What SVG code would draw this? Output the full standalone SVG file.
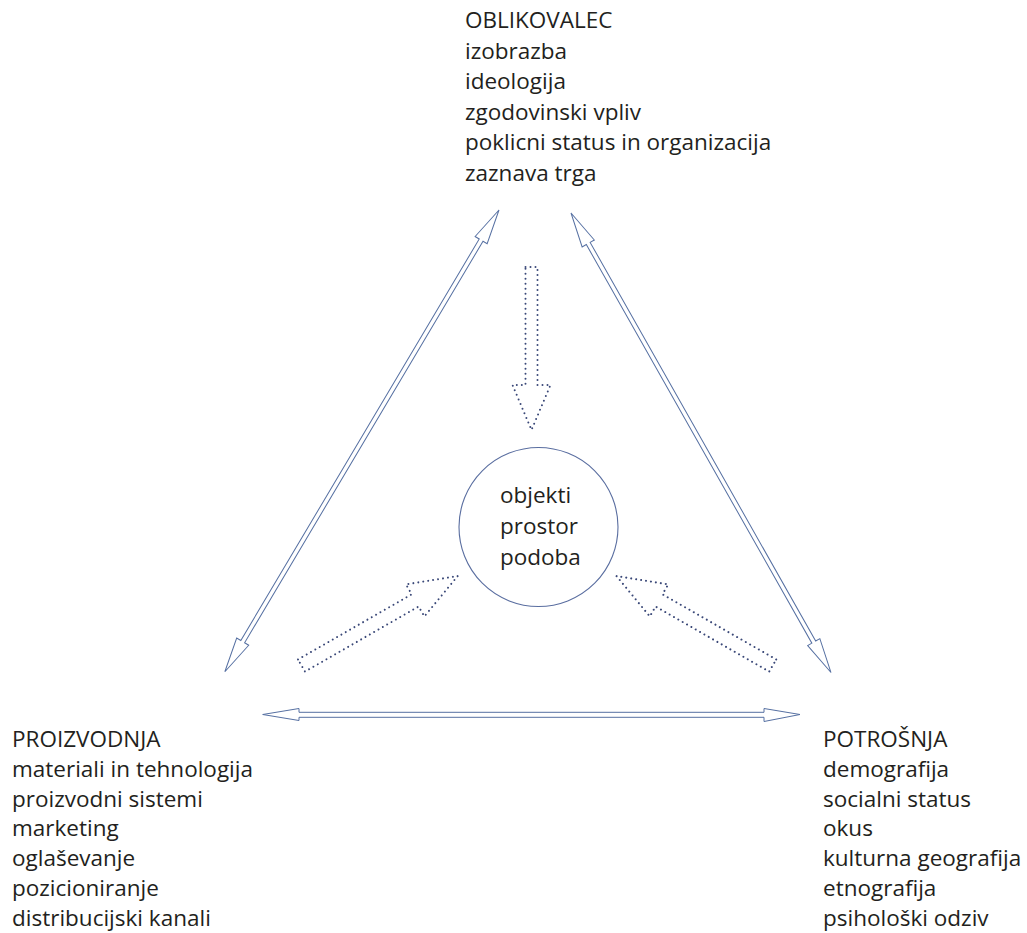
<svg xmlns="http://www.w3.org/2000/svg" width="1027" height="933" viewBox="0 0 1027 933">
<style>
.t{font-family:"Open Sans","Liberation Sans",sans-serif;font-size:22.5px;fill:#231f20}
.solid{fill:#fff;stroke:#5670a2;stroke-width:1;stroke-linejoin:miter}
.dot{fill:none;stroke:#3a4878;stroke-width:2;stroke-dasharray:0 5;stroke-linecap:round;stroke-linejoin:round}
.circ{fill:#fff;stroke:#5a6ea0;stroke-width:1.1}
</style>
<rect width="1027" height="933" fill="#fff"/>
<g id="connectors">
  <path class="solid" transform="translate(499,210) rotate(120.7)" d="M0,0 L35,-7 L35,-2.2 L502,-2.2 L502,-7 L537,0 L502,7 L502,2.2 L35,2.2 L35,7 Z"/>
  <path class="solid" transform="translate(571,213) rotate(60.5)" d="M0,0 L35,-7 L35,-2.2 L493,-2.2 L493,-7 L528,0 L493,7 L493,2.2 L35,2.2 L35,7 Z"/>
  <path class="solid" d="M262.7,714.5 L299,708.5 L299,712.3 L764,712.3 L764,708.5 L800,714.5 L764,721.5 L764,717.3 L299,717.3 L299,720.5 Z"/>
  <path class="dot" d="M525.5,267 L537.5,267 L537.5,385 L550.5,385 L531.5,430 L512.5,385 L525.5,385 Z"/>
  <path class="dot" transform="translate(301.5,665.5) rotate(-29.8)" d="M0,-7 L131,-7 L131,-18.5 L180,0 L131,18.5 L131,7 L0,7 Z"/>
  <path class="dot" transform="translate(772.7,665.5) scale(-1,1) rotate(-29.8)" d="M0,-7 L131,-7 L131,-18.5 L180,0 L131,18.5 L131,7 L0,7 Z"/>
</g>
<g id="oblikovalec">
  <text class="t" x="465" y="28">OBLIKOVALEC</text>
  <text class="t" x="465" y="58.5">izobrazba</text>
  <text class="t" x="465" y="89">ideologija</text>
  <text class="t" x="465" y="119.5">zgodovinski vpliv</text>
  <text class="t" x="465" y="150">poklicni status in organizacija</text>
  <text class="t" x="465" y="180.5">zaznava trga</text>
</g>
<g id="center">
  <circle class="circ" cx="538.5" cy="527" r="79.5"/>
  <text class="t" x="500" y="503">objekti</text>
  <text class="t" x="500" y="534">prostor</text>
  <text class="t" x="500" y="565">podoba</text>
</g>
<g id="proizvodnja">
  <text class="t" x="12" y="747">PROIZVODNJA</text>
  <text class="t" x="12" y="776.8">materiali in tehnologija</text>
  <text class="t" x="12" y="806.6">proizvodni sistemi</text>
  <text class="t" x="12" y="836.4">marketing</text>
  <text class="t" x="12" y="866.2">oglaševanje</text>
  <text class="t" x="12" y="896">pozicioniranje</text>
  <text class="t" x="12" y="925.8">distribucijski kanali</text>
</g>
<g id="potrosnja">
  <text class="t" x="823" y="747">POTROŠNJA</text>
  <text class="t" x="823" y="776.8">demografija</text>
  <text class="t" x="823" y="806.6">socialni status</text>
  <text class="t" x="823" y="836.4">okus</text>
  <text class="t" x="823" y="866.2">kulturna geografija</text>
  <text class="t" x="823" y="896">etnografija</text>
  <text class="t" x="823" y="925.8">psihološki odziv</text>
</g>
</svg>
